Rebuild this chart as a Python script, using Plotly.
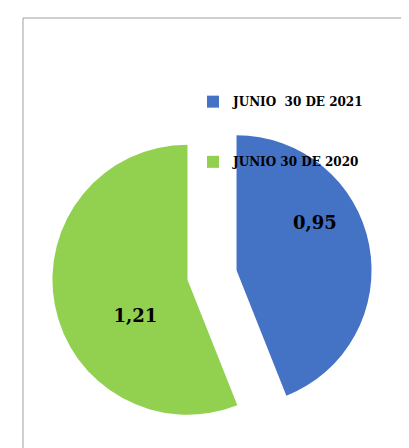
import plotly.graph_objects as go

labels = ["JUNIO\u00a0 30 DE 2021", "JUNIO 30 DE 2020"]
values = [0.95, 1.21]
colors = ["#4472C4", "#92D050"]

W, H = 409, 448
FONT = "DejaVu Serif"

gap = "<br> <br> <br> "

fig = go.Figure(go.Pie(
    labels=["<span style='font-size:12px'><b>" + l + "</b></span>" + gap for l in labels],
    values=values,
    sort=False,
    direction="clockwise",
    rotation=0,
    pull=[0.185, 0.185],
    marker=dict(colors=colors, line=dict(width=0)),
    texttemplate=["\u00a0\u00a0\u00a0\u00a0<b>%{value:.2f}</b><br> <br> <br> ",
                  "<br> <br> <br> \u00a0\u00a0\u00a0\u00a0<b>%{value:.2f}</b>"],
    textposition="inside",
    insidetextorientation="horizontal",
    textfont=dict(family=FONT, size=18, color="black"),
    domain=dict(x=[44 / W, 364 / W], y=[1 - 427 / H, 1 - 107 / H]),
    hoverinfo="label+value",
))

fig.update_layout(
    width=W, height=H,
    margin=dict(l=0, r=0, t=0, b=0),
    paper_bgcolor="white",
    plot_bgcolor="white",
    separators=",.",
    showlegend=True,
    legend=dict(
        x=185 / W, y=1 - 80 / H, xanchor="left", yanchor="top",
        font=dict(family=FONT, size=11, color="black"),
        valign="top",
        itemwidth=30,
        bgcolor="rgba(0,0,0,0)",
    ),
    shapes=[dict(
        type="rect", xref="paper", yref="paper",
        x0=15 / W, x1=1.1, y0=-0.1, y1=1 - 10 / H,
        line=dict(color="#a0a0a0", width=1), fillcolor="rgba(0,0,0,0)",
        layer="below",
    )],
)

fig.write_html("out.html")
